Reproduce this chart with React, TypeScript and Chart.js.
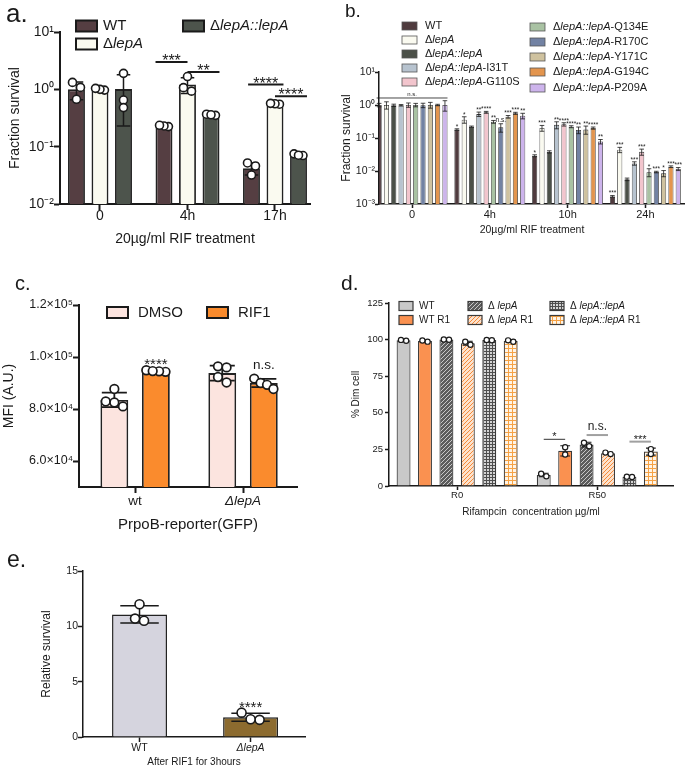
import React, { useEffect, useRef } from 'react';
import { Chart, registerables } from 'chart.js';

Chart.register(...registerables);

const PAGE_W = 685;
const PAGE_H = 767;
const CANVAS_H = 800;
const FONT = '"Liberation Sans", Arial, Helvetica, sans-serif';
const INK = '#1a1a1a';

// ---------------- Panel a ----------------
const A_CATEGORIES = ['0', '4h', '17h'];
const A_LABELS = ['WT', 'ΔlepA', 'ΔlepA::lepA'];
const A_COLORS = ['#553e42', '#fafaf0', '#4d544c'];
const A_WT = [1.0, 0.23, 0.042];
const A_WT_SD = [0.34, 0.007, 0.01];
const A_WT_DOTS = [[1.32, 1.08, 0.67], [0.224, 0.23, 0.236], [0.052, 0.046, 0.032]];
const A_LEPA = [1.0, 1.22, 0.56];
const A_LEPA_SD = [0.03, 0.37, 0.015];
const A_LEPA_DOTS = [[0.97, 1.0, 1.04], [1.67, 0.93, 1.07], [0.55, 0.56, 0.57]];
const A_COMP = [1.01, 0.36, 0.072];
const A_COMP_SD = [0.78, 0.01, 0.003];
const A_COMP_DOTS = [[1.9, 0.65, 0.48], [0.352, 0.368, 0.36], [0.07, 0.075, 0.071]];
const A_Y_TICKS = [0.01, 0.1, 1, 10];
const A_SIG = [
  { g: 1, a: 0, b: 1, ea: -1, eb: 0, y: 3.0, text: '***' },
  { g: 1, a: 1, b: 2, ea: 0, eb: 1, y: 2.0, text: '**' },
  { g: 2, a: 0, b: 1, ea: -0.4, eb: 1, y: 1.22, text: '****' },
  { g: 2, a: 1, b: 2, ea: 0, eb: 1, y: 0.76, text: '****' },
];

// ---------------- Panel b ----------------
const B_CATEGORIES = ['0', '4h', '10h', '24h'];
const B_LABELS = [
  'WT', 'ΔlepA', 'ΔlepA::lepA', 'ΔlepA::lepA-I31T', 'ΔlepA::lepA-G110S',
  'ΔlepA::lepA-Q134E', 'ΔlepA::lepA-R170C', 'ΔlepA::lepA-Y171C', 'ΔlepA::lepA-G194C', 'ΔlepA::lepA-P209A',
];
const B_COLORS = ['#4f3b3e', '#fafaf0', '#4b5048', '#b7c3cf', '#f2c5cd', '#a9c2a3', '#7282a3', '#cfc29f', '#e3954e', '#cdb4ec'];
const B_WT = [1.0, 0.18, 0.029, 0.0017];
const B_LEPA = [1.0, 0.36, 0.2, 0.044];
const B_COMP = [0.98, 0.22, 0.038, 0.0056];
const B_I31T = [0.98, 0.53, 0.25, 0.017];
const B_G110S = [1.0, 0.6, 0.26, 0.038];
const B_Q134E = [1.0, 0.31, 0.22, 0.0092];
const B_R170C = [0.98, 0.21, 0.175, 0.0093];
const B_Y171C = [1.0, 0.44, 0.18, 0.0085];
const B_G194C = [1.0, 0.56, 0.2, 0.0135];
const B_P209A = [1.0, 0.47, 0.078, 0.0115];
const B_SD_0 = [0.12, 0.25, 0.08, 0.05, 0.15, 0.12, 0.15, 0.2, 0.05, 0.35];
const B_SD_4H = [0.01, 0.08, 0.01, 0.08, 0.04, 0.03, 0.06, 0.04, 0.04, 0.09];
const B_SD_10H = [0.002, 0.04, 0.003, 0.06, 0.03, 0.015, 0.04, 0.05, 0.015, 0.012];
const B_SD_24H = [0.0001, 0.008, 0.0005, 0.002, 0.008, 0.0025, 0.0005, 0.0018, 0.0008, 0.0012];
const B_SIG_4H = ['*', '*', '', '**', '****', '**', 'n.s.', '***', '***', '**'];
const B_SIG_10H = ['*', '***', '', '**', '****', '****', '**', '**', '****', '**'];
const B_SIG_24H = ['***', '***', '', '***', '***', '*', '***', '*', '***', '***'];
const B_Y_TICKS = [0.001, 0.01, 0.1, 1, 10];
const B_NS_LEVEL = 1.63;

// ---------------- Panel c ----------------
const C_CATEGORIES = ['wt', 'ΔlepA'];
const C_LABELS = ['DMSO', 'RIF1'];
const C_COLORS = ['#fce4df', '#fa8b2d'];
const C_DMSO = [83500, 93800];
const C_DMSO_SD = [2800, 2900];
const C_DMSO_DOTS = [[87700, 82900, 81000, 82500], [96400, 96000, 92300, 90200]];
const C_RIF1 = [94500, 90000];
const C_RIF1_SD = [300, 1600];
const C_RIF1_DOTS = [[94300, 94900, 94500, 94600], [91700, 90000, 89300, 87700]];
const C_Y_TICKS = [60000, 80000, 100000, 120000];
const C_SIG = [
  { g: 0, s: 1, text: '****', y: 98900 },
  { g: 1, s: 1, text: 'n.s.', y: 96700 },
];

// ---------------- Panel d ----------------
const D_CATEGORIES = ['R0', 'R50'];
const D_LABELS = ['WT', 'WT R1', 'Δ lepA', 'Δ lepA R1', 'Δ lepA::lepA', 'Δ lepA::lepA R1'];
const D_WT = [99.5, 7.5];
const D_WT_SD = [0.4, 1.2];
const D_WT_DOTS = [[99.2, 99.8], [6.6, 8.4]];
const D_WT_R1 = [99, 24];
const D_WT_R1_SD = [0.5, 3.5];
const D_WT_R1_DOTS = [[98.6, 99.4], [26.5, 21.5]];
const D_LEPA = [100, 28.3];
const D_LEPA_SD = [0.2, 1.6];
const D_LEPA_DOTS = [[99.9, 100.1], [29.5, 27.2]];
const D_LEPA_R1 = [97.5, 22.3];
const D_LEPA_R1_SD = [1.4, 0.7];
const D_LEPA_R1_DOTS = [[96.5, 98.5], [22.8, 21.8]];
const D_COMP = [99.7, 6.3];
const D_COMP_SD = [0.2, 0.2];
const D_COMP_DOTS = [[99.6, 99.8], [6.2, 6.4]];
const D_COMP_R1 = [99, 23.5];
const D_COMP_R1_SD = [0.7, 2.4];
const D_COMP_R1_DOTS = [[98.5, 99.5], [25.2, 21.8]];
const D_Y_TICKS = [0, 25, 50, 75, 100, 125];
const D_SIG = [
  { g: 1, a: 0, b: 1, y: 31.9, ty: 35.5, text: '*', color: '#333' },
  { g: 1, a: 2, b: 3, y: 34.8, ty: 40.3, text: 'n.s.', color: '#a0a0a0' },
  { g: 1, a: 4, b: 5, y: 30.3, ty: 33.5, text: '***', color: '#a0a0a0' },
];

// ---------------- Panel e ----------------
const E_CATEGORIES = ['WT', 'ΔlepA'];
const E_COLORS = ['#d5d4de', '#8c6b2f'];
const E_VALUES = [11.07, 1.78];
const E_SD = [0.78, 0.36];
const E_DOTS = [[12.0, 10.5, 10.7], [2.2, 1.55, 1.6]];
const E_Y_TICKS = [0, 5, 10, 15];
const E_SIG = [{ g: 1, text: '****', y: 3.07 }];

// ---------------- helpers ----------------
const SUP = '⁰¹²³⁴⁵⁶⁷⁸⁹';
function sup(n: number): string {
  return String(n)
    .split('')
    .map((ch) => (ch === '-' ? '⁻' : SUP['0123456789'.indexOf(ch)] ?? ch))
    .join('');
}
const logFmt = (v: number) => '10' + sup(Math.round(Math.log10(v)));
const sciFmt = (v: number) => {
  const e = Math.floor(Math.log10(v) + 1e-9);
  return (v / Math.pow(10, e)).toFixed(1) + '×10' + sup(e);
};

type Run = { t: string; i: boolean };
function splitItalic(label: string): Run[] {
  return label
    .split(/(lepA(?:::lepA)?)/)
    .filter((p) => p.length > 0)
    .map((p) => ({ t: p, i: /^lepA/.test(p) }));
}
function drawRuns(ctx: CanvasRenderingContext2D, x: number, y: number, label: string, size: number, color = INK) {
  ctx.save();
  ctx.fillStyle = color;
  ctx.textBaseline = 'middle';
  ctx.textAlign = 'left';
  let cx = x;
  for (const r of splitItalic(label)) {
    ctx.font = `${r.i ? 'italic ' : ''}${size}px ${FONT}`;
    ctx.fillText(r.t, cx, y);
    cx += ctx.measureText(r.t).width;
  }
  ctx.restore();
}
function drawText(
  ctx: CanvasRenderingContext2D, text: string, x: number, y: number, size: number,
  align: CanvasTextAlign = 'left', baseline: CanvasTextBaseline = 'alphabetic', color = INK,
) {
  ctx.save();
  ctx.font = `${size}px ${FONT}`;
  ctx.fillStyle = color;
  ctx.textAlign = align;
  ctx.textBaseline = baseline;
  ctx.fillText(text, x, y);
  ctx.restore();
}
// draw text so that its glyphs are visually centred on y
function drawMark(ctx: CanvasRenderingContext2D, text: string, x: number, y: number, size: number, color = INK) {
  const k = text.indexOf('*') >= 0 ? 0.58 : 0.27;
  drawText(ctx, text, x, y + k * size, size, 'center', 'alphabetic', color);
}
function drawBox(ctx: CanvasRenderingContext2D, x: number, yc: number, w: number, h: number, fill: any, lw: number, stroke = INK) {
  ctx.save();
  ctx.fillStyle = fill;
  ctx.fillRect(x, yc - h / 2, w, h);
  ctx.strokeStyle = stroke;
  ctx.lineWidth = lw;
  ctx.strokeRect(x, yc - h / 2, w, h);
  ctx.restore();
}
function hLine(ctx: CanvasRenderingContext2D, x1: number, x2: number, y: number, lw: number, color = INK) {
  ctx.save();
  ctx.strokeStyle = color;
  ctx.lineWidth = lw;
  ctx.beginPath();
  ctx.moveTo(x1, y);
  ctx.lineTo(x2, y);
  ctx.stroke();
  ctx.restore();
}
// horizontal offsets for points that would overlap vertically (GraphPad-like scatter)
function spreadDots(ys: number[], r: number, bw: number): number[] {
  const order = ys.map((_, i) => i).sort((a, b) => ys[a] - ys[b]);
  const offs = new Array(ys.length).fill(0);
  let cluster: number[] = [];
  const flush = () => {
    const n = cluster.length;
    const step = n > 1 ? Math.min(2 * r, Math.max(bw - 2 * r, r) / (n - 1)) : 0;
    cluster.forEach((k, j) => (offs[k] = (j - (n - 1) / 2) * step));
    cluster = [];
  };
  order.forEach((k) => {
    if (cluster.length && ys[k] - ys[cluster[cluster.length - 1]] > 1.6 * r) flush();
    cluster.push(k);
  });
  flush();
  return offs;
}
function makePattern(kind: string): CanvasPattern | string {
  const c = document.createElement('canvas');
  const g = c.getContext('2d');
  if (!g) return '#999';
  if (kind === 'hatchDark' || kind === 'hatchOrange') {
    const n = 4;
    c.width = n;
    c.height = n;
    g.fillStyle = kind === 'hatchDark' ? '#5c5c5c' : '#fde2cc';
    g.fillRect(0, 0, n, n);
    g.strokeStyle = kind === 'hatchDark' ? '#c8c8c8' : '#f48a3a';
    g.lineWidth = 1;
    g.beginPath();
    for (let k = -n; k <= n; k += n) {
      g.moveTo(k, n);
      g.lineTo(k + n, 0);
    }
    g.stroke();
  } else {
    const n = kind === 'gridGray' ? 3 : 4;
    c.width = n;
    c.height = n;
    g.fillStyle = kind === 'gridGray' ? '#d4d4d4' : '#fff4e6';
    g.fillRect(0, 0, n, n);
    g.fillStyle = kind === 'gridGray' ? '#4e4e4e' : '#f6a244';
    g.fillRect(0, 0, n, 1);
    g.fillRect(0, 0, 1, n);
  }
  return g.createPattern(c, 'repeat') ?? '#999';
}

interface SeriesSpec {
  label: string;
  values: number[];
  color: any;
  sd?: number[];
  dots?: number[][];
}
interface PanelSpec {
  area: { l: number; t: number; r: number; b: number };
  xMin: number;
  xMax: number;
  cats: string[];
  italicCats?: boolean[];
  catPct: number;
  barPct: number;
  yType: 'linear' | 'logarithmic';
  yMin: number;
  yMax: number;
  yTicks: number[];
  yFmt: (v: number) => string;
  xTickSize: number;
  yTickSize: number;
  xTickPad: number;
  yTickPad: number;
  xTitle: string;
  xTitleSize: number;
  xTitleY: number;
  yTitle: string;
  yTitleSize: number;
  yTitleX: number;
  axisW: number;
  tickLen: number;
  barBorder: string;
  barBorderW: number;
  errW: number;
  capFrac: number;
  dotR: number;
  dotW: number;
  series: SeriesSpec[];
  decor: (chart: any, ctx: CanvasRenderingContext2D) => void;
}

function buildChart(canvas: HTMLCanvasElement, spec: PanelSpec): Chart {
  const yW = spec.area.l - spec.yTitleX + (spec.yTitleSize * 1.2) / 2;
  const xH = spec.xTitleY - spec.area.b + (spec.xTitleSize * 1.2) / 2;
  const extras = {
    id: 'extras',
    afterDatasetsDraw(chart: any) {
      const ctx: CanvasRenderingContext2D = chart.ctx;
      const ys = chart.scales.y;
      spec.series.forEach((s, di) => {
        const meta = chart.getDatasetMeta(di);
        meta.data.forEach((bar: any, i: number) => {
          const cx = bar.x;
          const bw = bar.width;
          const m = s.values[i];
          const sd = s.sd ? s.sd[i] : 0;
          ctx.save();
          ctx.strokeStyle = INK;
          ctx.lineWidth = spec.errW;
          if (sd > 0) {
            const hi = ys.getPixelForValue(m + sd);
            const loV = Math.max(m - sd, ys.min);
            const lo = ys.getPixelForValue(loV);
            const cap = (bw * spec.capFrac) / 2;
            ctx.beginPath();
            ctx.moveTo(cx, hi);
            ctx.lineTo(cx, lo);
            ctx.moveTo(cx - cap, hi);
            ctx.lineTo(cx + cap, hi);
            if (m - sd > ys.min) {
              ctx.moveTo(cx - cap, lo);
              ctx.lineTo(cx + cap, lo);
            }
            ctx.stroke();
          }
          if (s.dots && s.dots[i]) {
            const py = s.dots[i].map((v) => ys.getPixelForValue(v));
            const offs = spreadDots(py, spec.dotR, bw);
            py.forEach((y, k) => {
              ctx.beginPath();
              ctx.arc(cx + offs[k], y, spec.dotR, 0, Math.PI * 2);
              ctx.fillStyle = '#ffffff';
              ctx.fill();
              ctx.lineWidth = spec.dotW;
              ctx.strokeStyle = INK;
              ctx.stroke();
            });
          }
          ctx.restore();
        });
      });
    },
    afterDraw(chart: any) {
      spec.decor(chart, chart.ctx);
    },
  };
  const cfg: any = {
    type: 'bar',
    data: {
      datasets: spec.series.map((s) => ({
        label: s.label,
        data: s.values.map((v, i) => ({ x: i, y: v })),
        backgroundColor: s.color,
        borderColor: spec.barBorder,
        borderWidth: spec.barBorderW,
        borderSkipped: 'start',
        categoryPercentage: spec.catPct,
        barPercentage: spec.barPct,
      })),
    },
    options: {
      responsive: false,
      animation: false,
      devicePixelRatio: 1,
      events: [],
      layout: {
        padding: {
          left: spec.area.l - yW,
          top: spec.area.t,
          right: PAGE_W - spec.area.r,
          bottom: CANVAS_H - spec.area.b - xH,
        },
      },
      plugins: { legend: { display: false }, tooltip: { enabled: false }, title: { display: false } },
      scales: {
        x: {
          type: 'linear',
          offset: false,
          min: spec.xMin,
          max: spec.xMax,
          afterBuildTicks: (sc: any) => {
            sc.ticks = spec.cats.map((_, i) => ({ value: i }));
          },
          afterFit: (sc: any) => {
            sc.height = xH;
          },
          grid: {
            display: true,
            offset: false,
            drawOnChartArea: false,
            drawTicks: true,
            tickLength: spec.tickLen,
            tickWidth: spec.axisW,
            tickColor: INK,
          },
          border: { display: true, color: INK, width: spec.axisW },
          ticks: {
            autoSkip: false,
            maxRotation: 0,
            minRotation: 0,
            padding: spec.xTickPad,
            color: INK,
            font: (c: any) => ({
              family: FONT,
              size: spec.xTickSize,
              style: spec.italicCats && spec.italicCats[c.index] ? 'italic' : 'normal',
            }),
            callback: (v: any) => spec.cats[Math.round(Number(v))] ?? '',
          },
          title: {
            display: true,
            text: spec.xTitle,
            color: INK,
            padding: 0,
            font: { family: FONT, size: spec.xTitleSize, lineHeight: 1.2 },
          },
        },
        y: {
          type: spec.yType,
          min: spec.yMin,
          max: spec.yMax,
          afterBuildTicks: (sc: any) => {
            sc.ticks = spec.yTicks.map((v) => ({ value: v }));
          },
          afterFit: (sc: any) => {
            sc.width = yW;
          },
          grid: {
            display: true,
            drawOnChartArea: false,
            drawTicks: true,
            tickLength: spec.tickLen,
            tickWidth: spec.axisW,
            tickColor: INK,
          },
          border: { display: true, color: INK, width: spec.axisW },
          ticks: {
            autoSkip: false,
            padding: spec.yTickPad,
            color: INK,
            font: { family: FONT, size: spec.yTickSize },
            callback: (v: any) => spec.yFmt(Number(v)),
          },
          title: {
            display: true,
            text: spec.yTitle,
            color: INK,
            padding: 0,
            font: { family: FONT, size: spec.yTitleSize, lineHeight: 1.2 },
          },
        },
      },
    },
    plugins: [extras],
  };
  return new Chart(canvas, cfg);
}

function buildSpecs(): PanelSpec[] {
  // ----- a -----
  const a: PanelSpec = {
    area: { l: 60, t: 32, r: 310, b: 204 },
    xMin: -0.457, xMax: 2.4, cats: A_CATEGORIES,
    catPct: 0.806, barPct: 0.72,
    yType: 'logarithmic', yMin: 0.01, yMax: 10, yTicks: A_Y_TICKS, yFmt: logFmt,
    xTickSize: 14, yTickSize: 14, xTickPad: -2, yTickPad: 0,
    xTitle: '20µg/ml RIF treatment', xTitleSize: 14, xTitleY: 239,
    yTitle: 'Fraction survival', yTitleSize: 14, yTitleX: 15,
    axisW: 2, tickLen: 6, barBorder: '#222', barBorderW: 1.8,
    errW: 1.5, capFrac: 0.8, dotR: 4, dotW: 1.6,
    series: [
      { label: A_LABELS[0], values: A_WT, color: A_COLORS[0], sd: A_WT_SD, dots: A_WT_DOTS },
      { label: A_LABELS[1], values: A_LEPA, color: A_COLORS[1], sd: A_LEPA_SD, dots: A_LEPA_DOTS },
      { label: A_LABELS[2], values: A_COMP, color: A_COLORS[2], sd: A_COMP_SD, dots: A_COMP_DOTS },
    ],
    decor: (chart, ctx) => {
      drawText(ctx, 'a.', 6, 22, 26);
      const pos = [[76, 26], [76, 44], [183, 26]];
      A_LABELS.forEach((lab, k) => {
        drawBox(ctx, pos[k][0], pos[k][1], 21, 11, A_COLORS[k], 2);
        drawRuns(ctx, pos[k][0] + 27, pos[k][1], lab, 15);
      });
      const ys = chart.scales.y;
      A_SIG.forEach((sg) => {
        const ba = chart.getDatasetMeta(sg.a).data[sg.g];
        const bb = chart.getDatasetMeta(sg.b).data[sg.g];
        const x1 = ba.x + (sg.ea * ba.width) / 2;
        const x2 = bb.x + (sg.eb * bb.width) / 2;
        const y = ys.getPixelForValue(sg.y);
        hLine(ctx, x1, x2, y, 2);
        drawMark(ctx, sg.text, (x1 + x2) / 2, y - 5, 16);
      });
    },
  };

  // ----- b -----
  const bValues = [B_WT, B_LEPA, B_COMP, B_I31T, B_G110S, B_Q134E, B_R170C, B_Y171C, B_G194C, B_P209A];
  const bSd = [B_SD_0, B_SD_4H, B_SD_10H, B_SD_24H];
  const bSig = [null, B_SIG_4H, B_SIG_10H, B_SIG_24H];
  const b: PanelSpec = {
    area: { l: 379, t: 72, r: 685, b: 204 },
    xMin: -0.425, xMax: 3.51, cats: B_CATEGORIES,
    catPct: 0.94, barPct: 0.7,
    yType: 'logarithmic', yMin: 0.001, yMax: 10, yTicks: B_Y_TICKS, yFmt: logFmt,
    xTickSize: 11, yTickSize: 10.5, xTickPad: 0, yTickPad: 0,
    xTitle: '20µg/ml RIF treatment', xTitleSize: 10.5, xTitleY: 230,
    yTitle: 'Fraction survival', yTitleSize: 12, yTitleX: 347,
    axisW: 1.5, tickLen: 4, barBorder: '#333', barBorderW: 0.8,
    errW: 0.8, capFrac: 0.9, dotR: 0, dotW: 0,
    series: bValues.map((vals, k) => ({
      label: B_LABELS[k],
      values: vals,
      color: B_COLORS[k],
      sd: [B_SD_0[k], B_SD_4H[k], B_SD_10H[k], B_SD_24H[k]],
    })),
    decor: (chart, ctx) => {
      drawText(ctx, 'b.', 345, 17, 19);
      const left = [26, 40, 54, 68, 82];
      const right = [27, 42, 57, 72, 88];
      B_LABELS.forEach((lab, k) => {
        const x = k < 5 ? 402 : 530;
        const y = k < 5 ? left[k] : right[k - 5];
        drawBox(ctx, x, y, 15, 8, B_COLORS[k], 0.8, '#555');
        drawRuns(ctx, x + 23, y, lab, 11);
      });
      const ys = chart.scales.y;
      const first = chart.getDatasetMeta(0).data[0];
      const last = chart.getDatasetMeta(B_LABELS.length - 1).data[0];
      const nsY = ys.getPixelForValue(B_NS_LEVEL);
      hLine(ctx, first.x - first.width / 2, last.x + last.width / 2, nsY, 0.8);
      drawText(ctx, 'n.s.', (first.x + last.x) / 2, nsY - 2, 6, 'center');
      for (let g = 1; g < 4; g++) {
        const sig = bSig[g] as string[];
        sig.forEach((txt, k) => {
          if (!txt) return;
          const bar = chart.getDatasetMeta(k).data[g];
          const top = ys.getPixelForValue(bValues[k][g] + bSd[g][k]);
          drawMark(ctx, txt, bar.x, top - 4, 6.5);
        });
      }
    },
  };

  // ----- c -----
  const c: PanelSpec = {
    area: { l: 79, t: 305, r: 297, b: 487 },
    xMin: -0.52, xMax: 1.5, cats: C_CATEGORIES, italicCats: [false, true],
    catPct: 0.77, barPct: 0.67,
    yType: 'linear', yMin: 50000, yMax: 120000, yTicks: C_Y_TICKS, yFmt: sciFmt,
    xTickSize: 13.5, yTickSize: 12.5, xTickPad: 0, yTickPad: 0,
    xTitle: 'PrpoB-reporter(GFP)', xTitleSize: 15, xTitleY: 525,
    yTitle: 'MFI (A.U.)', yTitleSize: 14, yTitleX: 9,
    axisW: 2, tickLen: 6, barBorder: '#222', barBorderW: 1.8,
    errW: 1.8, capFrac: 0.9, dotR: 4.3, dotW: 1.7,
    series: [
      { label: C_LABELS[0], values: C_DMSO, color: C_COLORS[0], sd: C_DMSO_SD, dots: C_DMSO_DOTS },
      { label: C_LABELS[1], values: C_RIF1, color: C_COLORS[1], sd: C_RIF1_SD, dots: C_RIF1_DOTS },
    ],
    decor: (chart, ctx) => {
      drawText(ctx, 'c.', 15, 290, 20);
      const xs = [107, 207];
      C_LABELS.forEach((lab, k) => {
        drawBox(ctx, xs[k], 312.5, 21, 11, C_COLORS[k], 2);
        drawRuns(ctx, xs[k] + 31, 312.5, lab, 15);
      });
      const ys = chart.scales.y;
      C_SIG.forEach((sg) => {
        const bar = chart.getDatasetMeta(sg.s).data[sg.g];
        drawMark(ctx, sg.text, bar.x, ys.getPixelForValue(sg.y), sg.text === 'n.s.' ? 13.5 : 15);
      });
    },
  };

  // ----- d -----
  const pats = [
    '#c9c9c9',
    '#fa9150',
    makePattern('hatchDark'),
    makePattern('hatchOrange'),
    makePattern('gridGray'),
    makePattern('gridOrange'),
  ];
  const dVals = [D_WT, D_WT_R1, D_LEPA, D_LEPA_R1, D_COMP, D_COMP_R1];
  const dSd = [D_WT_SD, D_WT_R1_SD, D_LEPA_SD, D_LEPA_R1_SD, D_COMP_SD, D_COMP_R1_SD];
  const dDots = [D_WT_DOTS, D_WT_R1_DOTS, D_LEPA_DOTS, D_LEPA_R1_DOTS, D_COMP_DOTS, D_COMP_R1_DOTS];
  const d: PanelSpec = {
    area: { l: 389, t: 303, r: 673, b: 486 },
    xMin: -0.486, xMax: 1.54, cats: D_CATEGORIES,
    catPct: 0.917, barPct: 0.65,
    yType: 'linear', yMin: 0, yMax: 125, yTicks: D_Y_TICKS, yFmt: (v) => String(v),
    xTickSize: 9.5, yTickSize: 9.5, xTickPad: 0, yTickPad: 2,
    xTitle: 'Rifampcin  concentration µg/ml', xTitleSize: 10, xTitleY: 512,
    yTitle: '% Dim cell', yTitleSize: 10, yTitleX: 356,
    axisW: 1.5, tickLen: 4, barBorder: '#3a3a3a', barBorderW: 1.2,
    errW: 1.1, capFrac: 0.7, dotR: 2.6, dotW: 1.2,
    series: dVals.map((vals, k) => ({ label: D_LABELS[k], values: vals, color: pats[k], sd: dSd[k], dots: dDots[k] })),
    decor: (chart, ctx) => {
      drawText(ctx, 'd.', 341, 290, 21);
      const cols = [399, 468, 550];
      const rows = [306, 320];
      D_LABELS.forEach((lab, k) => {
        const x = cols[Math.floor(k / 2)];
        const y = rows[k % 2];
        drawBox(ctx, x, y, 14, 9, pats[k], 1.2, '#3a3a3a');
        drawRuns(ctx, x + 20, y, lab, 10);
      });
      const ys = chart.scales.y;
      D_SIG.forEach((sg) => {
        const ba = chart.getDatasetMeta(sg.a).data[sg.g];
        const bb = chart.getDatasetMeta(sg.b).data[sg.g];
        const y = ys.getPixelForValue(sg.y);
        hLine(ctx, ba.x, bb.x, y, sg.text === '*' ? 1 : 2, sg.color);
        drawMark(ctx, sg.text, (ba.x + bb.x) / 2, ys.getPixelForValue(sg.ty), sg.text === 'n.s.' ? 12 : 11, '#222');
      });
    },
  };

  // ----- e -----
  const e: PanelSpec = {
    area: { l: 83, t: 571, r: 305, b: 737 },
    xMin: -0.509, xMax: 1.49, cats: E_CATEGORIES, italicCats: [false, true],
    catPct: 0.7, barPct: 0.707,
    yType: 'linear', yMin: 0, yMax: 15, yTicks: E_Y_TICKS, yFmt: (v) => String(v),
    xTickSize: 10.5, yTickSize: 10.5, xTickPad: 0, yTickPad: 0,
    xTitle: 'After RIF1 for 3hours', xTitleSize: 10, xTitleY: 762,
    yTitle: 'Relative survival', yTitleSize: 12, yTitleX: 47,
    axisW: 1.5, tickLen: 5, barBorder: '#222', barBorderW: 1.5,
    errW: 1.5, capFrac: 0.7, dotR: 4.5, dotW: 1.6,
    series: [{ label: 'Relative survival', values: E_VALUES, color: E_COLORS, sd: E_SD, dots: E_DOTS }],
    decor: (chart, ctx) => {
      drawText(ctx, 'e.', 7, 567, 23);
      const ys = chart.scales.y;
      E_SIG.forEach((sg) => {
        const bar = chart.getDatasetMeta(0).data[sg.g];
        drawMark(ctx, sg.text, bar.x, ys.getPixelForValue(sg.y), 15);
      });
    },
  };
  return [a, b, c, d, e];
}

Chart.defaults.font.family = FONT;
Chart.defaults.color = INK;

export default function App() {
  const r0 = useRef<HTMLCanvasElement>(null);
  const r1 = useRef<HTMLCanvasElement>(null);
  const r2 = useRef<HTMLCanvasElement>(null);
  const r3 = useRef<HTMLCanvasElement>(null);
  const r4 = useRef<HTMLCanvasElement>(null);
  const refs = [r0, r1, r2, r3, r4];

  useEffect(() => {
    const specs = buildSpecs();
    const charts = specs.map((s, k) => buildChart(refs[k].current as HTMLCanvasElement, s));
    return () => charts.forEach((ch) => ch.destroy());
  }, []);

  return (
    <div
      style={{
        position: 'absolute',
        left: 0,
        top: 0,
        width: PAGE_W,
        height: PAGE_H,
        overflow: 'hidden',
        background: '#ffffff',
      }}
    >
      {refs.map((r, k) => (
        <canvas
          key={k}
          ref={r}
          width={PAGE_W}
          height={CANVAS_H}
          style={{ position: 'absolute', left: 0, top: 0, width: PAGE_W, height: CANVAS_H }}
        />
      ))}
    </div>
  );
}
